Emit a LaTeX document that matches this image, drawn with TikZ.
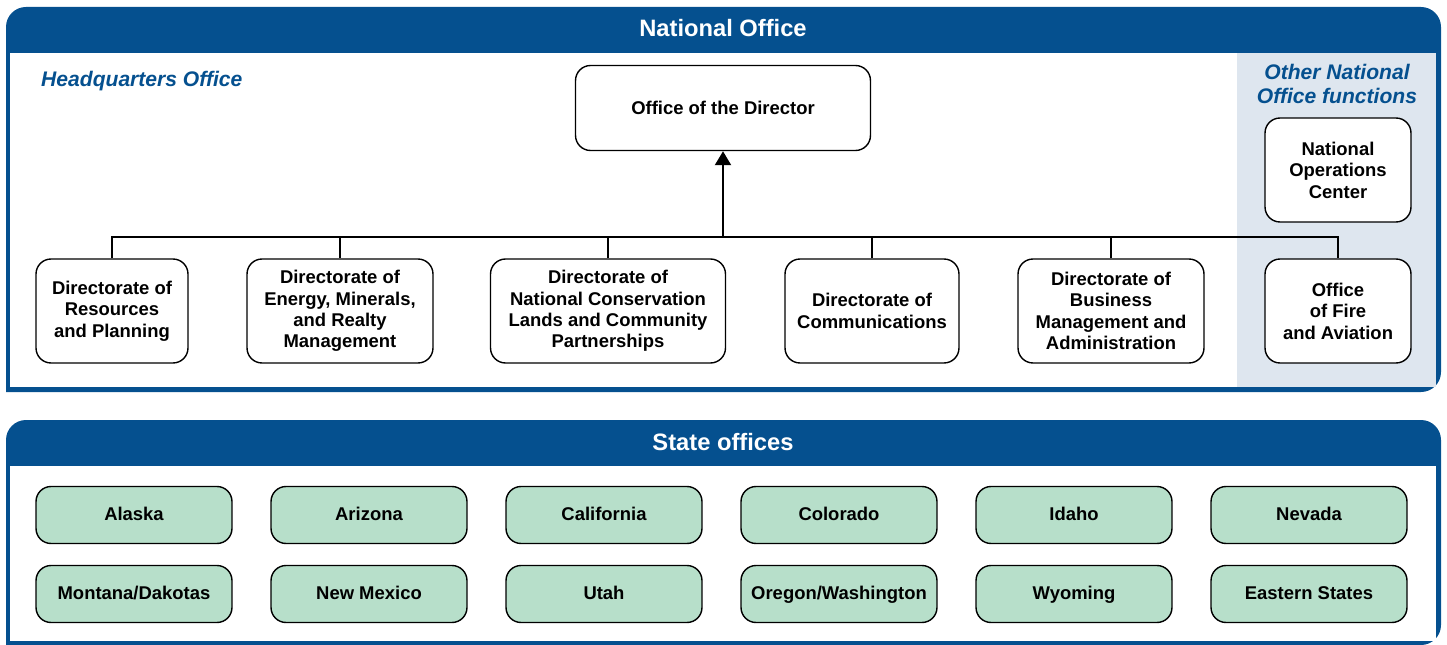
\documentclass[tikz,border=0pt]{standalone}
\usepackage{fontspec}
\setmainfont{Liberation Sans}
\usetikzlibrary{positioning, arrows.meta, calc, backgrounds}

\definecolor{bandblue}{HTML}{05508F}
\definecolor{sidegray}{HTML}{DEE6EF}
\definecolor{stategreen}{HTML}{B7DFCA}

\begin{document}
\begin{tikzpicture}[
    x=0.02cm, y=-0.02cm,
    >=Triangle, % filled triangle tips
    link/.style={
        line width=1.6pt
    },
    unit/.style={
        rectangle,
        fill=white,
        draw,
        line width=0.8pt,
        rounded corners=3mm,
        align=center,
        inner sep=0pt,
        minimum height=2.08cm,
        minimum width=#1,
        font=\bfseries\fontsize{10.5}{12.2}\selectfont
    },
    state/.style={
        rectangle,
        fill=stategreen,
        draw,
        line width=0.8pt,
        rounded corners=3mm,
        inner sep=0pt,
        text height=1.6ex,
        text depth=0.4ex,
        minimum height=1.14cm,
        minimum width=3.92cm,
        font=\bfseries\fontsize{10.5}{12.2}\selectfont
    },
    bandtitle/.style={
        text=white,
        font=\bfseries\fontsize{13.5}{16}\selectfont
    },
    grouptitle/.style={
        text=bandblue,
        align=center,
        font=\bfseries\itshape\fontsize{12}{13.5}\selectfont
    }
]
    \useasboundingbox (0,0) rectangle (1447,645);

    % National office panel
    \fill[bandblue, rounded corners=4mm] (6,392) -- (6,7) -- (1441,7) -- (1441,392) [sharp corners] -- cycle;
    \fill[white] (10,53) rectangle (1436,387);
    \fill[sidegray] (1237,53) rectangle (1436,387);
    \node[bandtitle] (natoff) at (723,28) {National Office};

    \node[grouptitle, anchor=west] (hq) at (35,81) {Headquarters Office};
    \node[grouptitle] (other) at (1337,84) {Other National\\Office functions};

    % Director
    \node[unit=5.9cm, minimum height=1.7cm] (director) at (723,108) {Office of the Director};

    % Directorates
    \node[unit=3.04cm] (dres) at (112,311) {Directorate of\\Resources\\and Planning};
    \node[unit=3.72cm] (denergy) at (340,311) {Directorate of\\Energy, Minerals,\\and Realty\\Management};
    \node[unit=4.7cm] (dncl) at (608,311) {Directorate of\\National Conservation\\Lands and Community\\Partnerships};
    \node[unit=3.48cm] (dcomm) at (872,311) {Directorate of\\Communications};
    \node[unit=3.72cm] (dbus) at (1111,311) {Directorate of\\Business\\Management and\\Administration};
    \node[unit=2.92cm] (fire) at (1338,311) {Office\\of Fire\\and Aviation};
    \node[unit=2.92cm] (noc) at (1338,170) {National\\Operations\\Center};

    \coordinate (bus) at (723,237);
    \draw[link] (dres.north) |- (bus) -| (fire.north);
    \draw[link] (denergy.north) -- (denergy.north |- bus);
    \draw[link] (dncl.north) -- (dncl.north |- bus);
    \draw[link] (dcomm.north) -- (dcomm.north |- bus);
    \draw[link] (dbus.north) -- (dbus.north |- bus);
    \draw[link, -{Triangle[length=8pt, width=9pt]}] (bus) -- (director.south);

    % State offices panel
    \fill[bandblue, rounded corners=4mm] (6,645) -- (6,420) -- (1441,420) -- (1441,645) [sharp corners] -- cycle;
    \fill[white] (10,466) rectangle (1436,641);
    \node[bandtitle] (stoff) at (723,442) {State offices};

    \foreach \name [count=\i from 0] in {Alaska, Arizona, California, Colorado, Idaho, Nevada}
        \node[state] (st1\i) at (134+235*\i,515) {\name};
    \foreach \name [count=\i from 0] in {Montana/Dakotas, New Mexico, Utah, Oregon/Washington, Wyoming, Eastern States}
        \node[state] (st2\i) at (134+235*\i,594) {\name};
\end{tikzpicture}
\end{document}
